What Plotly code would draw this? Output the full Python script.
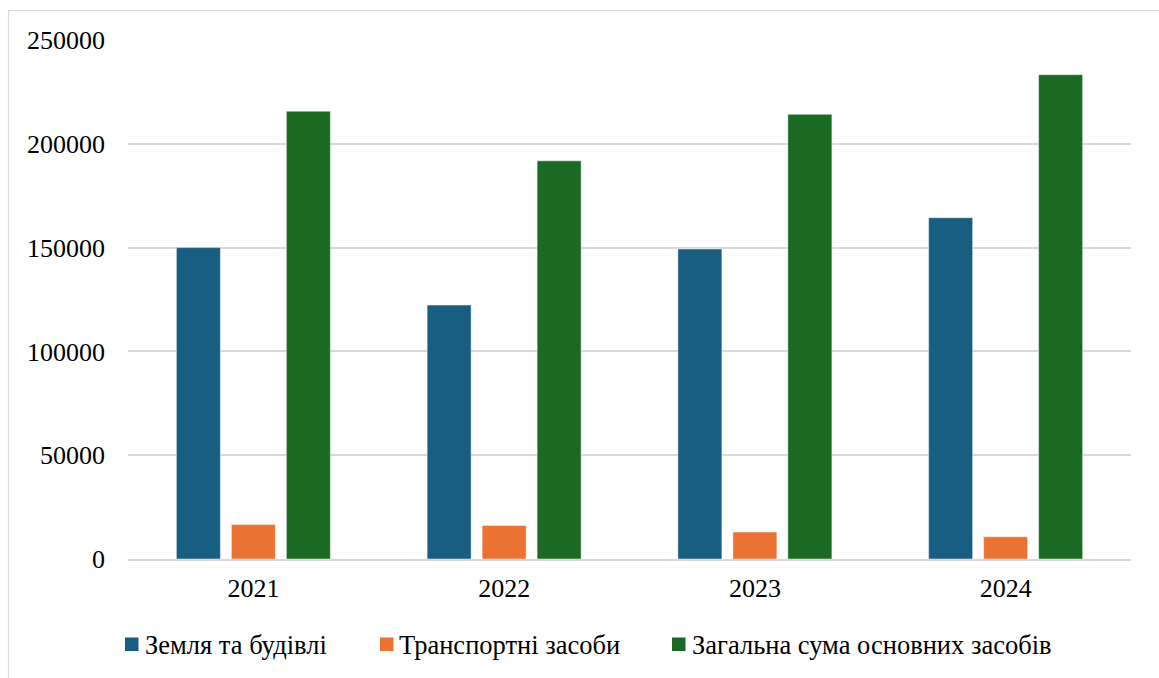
import plotly.graph_objects as go

# Data
years = ["2021", "2022", "2023", "2024"]
land_buildings = [150000, 122300, 149300, 164400]
vehicles = [16600, 16100, 13000, 10700]
total_fixed_assets = [215700, 191800, 214200, 233300]

series_names = ["Земля та будівлі", "Транспортні засоби", "Загальна сума основних засобів"]
series_colors = ["#175E80", "#EA7233", "#1B6A24"]

y_ticks = [0, 50000, 100000, 150000, 200000, 250000]

W, H = 1159, 678
L, R, T, B = 128, 28, 40, 119
PW, PH = W - L - R, H - T - B
FONT = "Liberation Serif"


def px_x(px):
    return (px - L) / PW


def px_y(py):
    return (H - B - py) / PH


fig = go.Figure()
for name, vals, col in zip(series_names, [land_buildings, vehicles, total_fixed_assets], series_colors):
    fig.add_trace(go.Bar(
        x=years, y=vals, name=name,
        marker=dict(color=col, line=dict(color="rgba(255,255,255,0.45)", width=1)),
        showlegend=False,
    ))

# Outer chart frame
fig.add_shape(type="rect", xref="paper", yref="paper",
              x0=px_x(8.5), x1=px_x(1175), y0=px_y(10.7), y1=px_y(700),
              line=dict(color="#D9D9D9", width=1.2), fillcolor="rgba(0,0,0,0)", layer="below")

# Legend: coloured squares with labels
legend_sq_x = [125, 380, 672]
legend_txt_x = [142.5, 396.5, 689.5]
for name, col, sx, tx in zip(series_names, series_colors, legend_sq_x, legend_txt_x):
    fig.add_shape(type="rect", xref="paper", yref="paper",
                  x0=px_x(sx), x1=px_x(sx + 13.5), y0=px_y(651), y1=px_y(637.5),
                  line=dict(width=0), fillcolor=col)
    fig.add_annotation(xref="paper", yref="paper", x=px_x(tx), y=px_y(645),
                       xanchor="left", yanchor="middle", showarrow=False,
                       text=name, font=dict(family=FONT, size=26.5, color="#000000"))

fig.update_layout(
    width=W, height=H,
    margin=dict(l=L, r=R, t=T, b=B, pad=0),
    paper_bgcolor="white", plot_bgcolor="white",
    barmode="group", bargap=0.342, bargroupgap=0.2,
    font=dict(family=FONT, size=26, color="#000000"),
)
fig.update_xaxes(showgrid=False, showline=True, linecolor="#D9D9D9", linewidth=1.5,
                 ticks="", ticklabelstandoff=5, tickfont=dict(family=FONT, size=26, color="#000"))
fig.update_yaxes(range=[0, 250000], tickvals=y_ticks, ticktext=[str(v) for v in y_ticks],
                 showgrid=True, gridcolor="#D9D9D9", gridwidth=1.5, zeroline=False,
                 showline=False, ticks="", ticklabelstandoff=22, tickfont=dict(family=FONT, size=26, color="#000"))

fig.write_html("out.html")
